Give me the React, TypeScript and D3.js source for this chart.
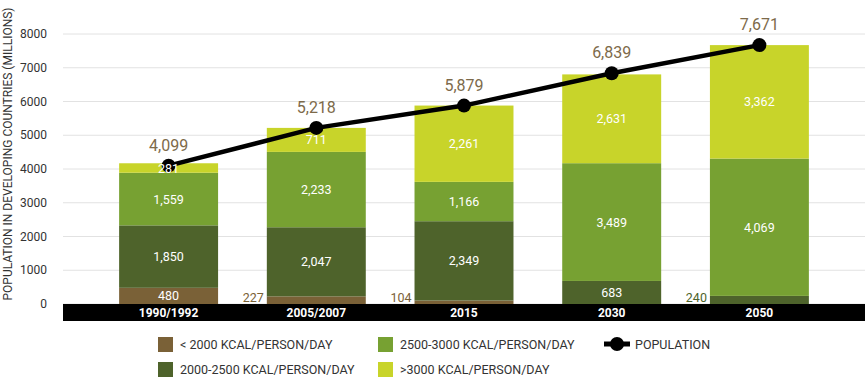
import React from "react";
import * as d3 from "d3";

const categories = ["1990/1992", "2005/2007", "2015", "2030", "2050"];
const keys = ["lt2000", "k2000_2500", "k2500_3000", "gt3000"];
const legendLabels = [
  "< 2000 KCAL/PERSON/DAY",
  "2000-2500 KCAL/PERSON/DAY",
  "2500-3000 KCAL/PERSON/DAY",
  ">3000 KCAL/PERSON/DAY",
];
const lt2000 = [480, 227, 104, 0, 0];
const k2000_2500 = [1850, 2047, 2349, 683, 240];
const k2500_3000 = [1559, 2233, 1166, 3489, 4069];
const gt3000 = [281, 711, 2261, 2631, 3362];
const population = [4099, 5218, 5879, 6839, 7671];
const yTicks = [0, 1000, 2000, 3000, 4000, 5000, 6000, 7000, 8000];

const colors = ["#7a6137", "#4e632b", "#77a132", "#c8d42a"];
const font = "Roboto, 'Open Sans', sans-serif";
const fmt = d3.format(",");

const width = 865;
const height = 386;
const left = 63;
const axisY = 304;

export default function App() {
  const rows = categories.map((c, i) => ({
    cat: c,
    lt2000: lt2000[i],
    k2000_2500: k2000_2500[i],
    k2500_3000: k2500_3000[i],
    gt3000: gt3000[i],
  }));
  const stacked = d3.stack<any>().keys(keys)(rows);

  const x = d3
    .scaleBand()
    .domain(categories)
    .range([left, width])
    .paddingInner(0.33)
    .paddingOuter(0.38);
  const y = d3.scaleLinear().domain([0, 8000]).range([axisY, 34]);

  const line = d3
    .line<number>()
    .x((_, i) => (x(categories[i]) as number) + x.bandwidth() / 2)
    .y((d) => y(d));

  const segs = stacked.flatMap((layer, li) =>
    layer.map((d, i) => ({
      li,
      i,
      bx: x(categories[i]) as number,
      y0: y(d[0]),
      y1: y(d[1]),
      v: d[1] - d[0],
    }))
  ).filter((s) => s.v > 0);

  return (
    <div style={{ position: "absolute", left: 0, top: 0 }}>
      <svg width={width} height={height} style={{ display: "block" }} fontFamily={font}>
        {yTicks.map((t) => (
          <g key={t}>
            <line x1={left} x2={width} y1={y(t)} y2={y(t)} stroke="#e2e2e2" strokeWidth={1} />
            <text x={47} y={y(t)} dy="0.35em" textAnchor="end" fontSize={12} fill="#333">
              {t}
            </text>
          </g>
        ))}
        <text
          transform={`translate(12, ${axisY / 2 + 2}) rotate(-90)`}
          textAnchor="middle"
          fontSize={12}
          fill="#333"
        >
          POPULATION IN DEVELOPING COUNTRIES (MILLIONS)
        </text>

        {segs.map((s) => (
          <rect
            key={`r${s.li}-${s.i}`}
            x={s.bx}
            y={s.y1}
            width={x.bandwidth()}
            height={s.y0 - s.y1}
            fill={colors[s.li]}
          />
        ))}

        <rect x={left} y={axisY} width={width - left} height={17} fill="#000" />
        {categories.map((c) => (
          <text
            key={c}
            x={(x(c) as number) + x.bandwidth() / 2}
            y={axisY + 8.5}
            dy="0.36em"
            textAnchor="middle"
            fontSize={12}
            fontWeight="bold"
            fill="#fff"
          >
            {c}
          </text>
        ))}

        <path d={line(population) as string} fill="none" stroke="#000" strokeWidth={4.5} />
        {population.map((p, i) => {
          const cx = (x(categories[i]) as number) + x.bandwidth() / 2;
          return (
            <g key={i}>
              <circle cx={cx} cy={y(p)} r={7} fill="#000" />
              <text x={cx} y={y(p) - 15} textAnchor="middle" fontSize={16} fill="#7d6a4a">
                {fmt(p)}
              </text>
            </g>
          );
        })}

        {/* segment values; small bottom segments get their label beside the bar */}
        {segs.map((s) =>
          s.v >= 250 ? (
            <text
              key={`t${s.li}-${s.i}`}
              x={s.bx + x.bandwidth() / 2}
              y={(s.y0 + s.y1) / 2}
              dy="0.36em"
              textAnchor="middle"
              fontSize={12.5}
              fill="#fff"
            >
              {fmt(s.v)}
            </text>
          ) : (
            <text
              key={`t${s.li}-${s.i}`}
              x={s.bx - 3}
              y={s.y0 - 2}
              textAnchor="end"
              fontSize={12.5}
              fill={colors[s.li]}
            >
              {fmt(s.v)}
            </text>
          )
        )}

        {legendLabels.map((l, i) => {
          const lx = i < 2 ? 158 : 378;
          const ly = i % 2 === 0 ? 337 : 362;
          return (
            <g key={l}>
              <rect x={lx} y={ly} width={15} height={15} fill={colors[i]} />
              <text x={lx + 22} y={ly + 7.5} dy="0.36em" fontSize={12.5} fill="#333">
                {l}
              </text>
            </g>
          );
        })}
        <line x1={604} x2={630} y1={344} y2={344} stroke="#000" strokeWidth={5} />
        <circle cx={617} cy={344} r={7} fill="#000" />
        <text x={635} y={344} dy="0.36em" fontSize={12.5} fill="#333">
          POPULATION
        </text>
      </svg>
    </div>
  );
}
